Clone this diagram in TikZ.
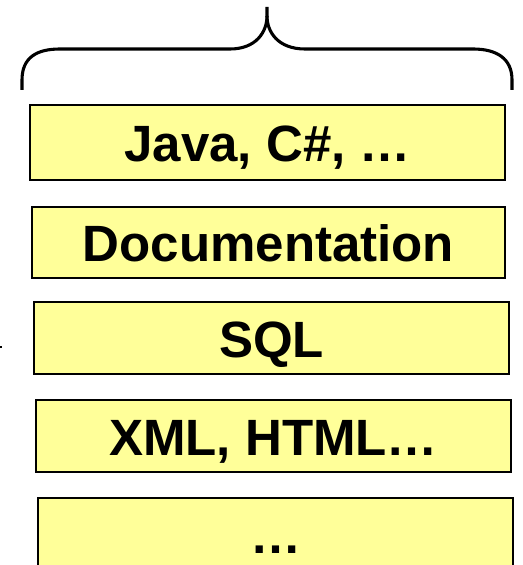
\documentclass[tikz,border=0pt]{standalone}
\usepackage{fontspec}
\setmainfont{Liberation Sans}
\usepackage{xcolor}
\usetikzlibrary{positioning}
\definecolor{boxfill}{RGB}{255, 255, 153}

\begin{document}
\begin{tikzpicture}[
    langbox/.style={draw, line width=1.3pt, fill=boxfill, minimum width=11.88cm, minimum height=1.8cm,
      inner sep=0pt, text height=1.2cm, text depth=0.22cm, font=\fontsize{36.3}{40}\selectfont\bfseries}]
  \useasboundingbox (0,0) rectangle (13.05,-14.125);

  % Layers
  \node[langbox, minimum width=11.875cm, minimum height=1.875cm] (java) at (6.69,-3.56) {Java, C\#, \dots};
  \node[langbox, minimum width=11.83cm, minimum height=1.78cm] (doc) at (6.71,-6.06) {Documentation};
  \node[langbox] (sql) at (6.79,-8.45) {SQL};
  \node[langbox] (xml) at (6.84,-10.9) {XML, HTML\dots};
  \node[langbox] (more) at (6.89,-13.35) {\dots};

  % Brace over the layers
  \draw[line width=2.2pt] (0.55,-2.25) -- (0.55,-2.0)
    .. controls (0.55,-1.45) and (0.9,-1.225) .. (1.5,-1.225) -- (5.75,-1.225)
    .. controls (6.4,-1.225) and (6.675,-0.8) .. (6.675,-0.4) -- (6.675,-0.175);
  \draw[line width=2.2pt] (6.675,-0.4)
    .. controls (6.675,-0.8) and (6.95,-1.225) .. (7.625,-1.225) -- (11.825,-1.225)
    .. controls (12.4,-1.225) and (12.8,-1.45) .. (12.8,-2.0) -- (12.8,-2.25);

  % Stub at the left edge
  \fill (0,-8.645) rectangle (0.06,-8.705);
\end{tikzpicture}
\end{document}
